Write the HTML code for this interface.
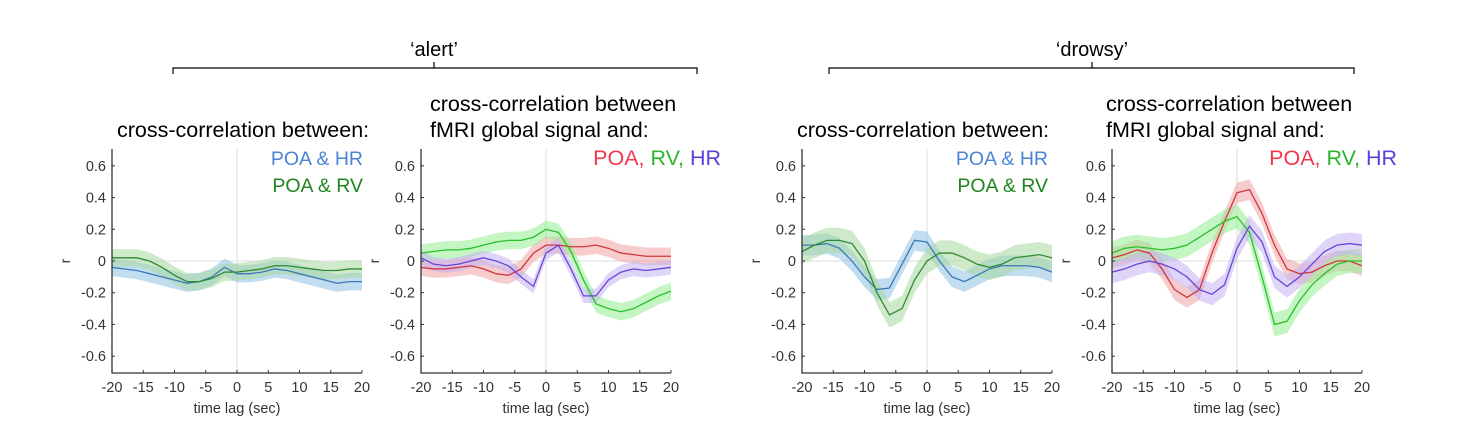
<!DOCTYPE html>
<html><head><meta charset="utf-8"><style>
body{margin:0;background:#fff;width:1474px;height:439px;overflow:hidden;font-family:"Liberation Sans",sans-serif}
svg{position:absolute;left:0;top:0}
</style></head><body>
<svg id="c" width="1474" height="439" font-family="Liberation Sans, sans-serif">
<g>
<text x="434" y="56" font-size="20" text-anchor="middle" fill="#000">‘alert’</text>
<path d="M173,74 V68 H697 V74 M434,68 V62" stroke="#000" fill="none" stroke-width="1.2"/>
</g>
<g>
<text x="1092" y="56" font-size="20" text-anchor="middle" fill="#000">‘drowsy’</text>
<path d="M829,74 V68 H1354 V74 M1092,68 V62" stroke="#000" fill="none" stroke-width="1.2"/>
</g>
<text x="117" y="137" font-size="21.5">cross-correlation between:</text>
<text x="430" y="111" font-size="21.5">cross-correlation between</text>
<text x="430" y="137" font-size="21.5">fMRI global signal and:</text>
<text x="797" y="137" font-size="21.5">cross-correlation between:</text>
<text x="1106" y="111" font-size="21.5">cross-correlation between</text>
<text x="1106" y="137" font-size="21.5">fMRI global signal and:</text>
</svg>
<script>
const xs=[-20,-18,-16,-14,-12,-10,-8,-6,-4,-2,0,2,4,6,8,10,12,14,16,18,20];
const yTicks=[0.6,0.4,0.2,0,-0.2,-0.4,-0.6];
const yTickLabels=["0.6","0.4","0.2","0","-0.2","-0.4","-0.6"];
const xTicks=[-20,-15,-10,-5,0,5,10,15,20];
const p1HR=[-0.04,-0.05,-0.06,-0.08,-0.1,-0.12,-0.14,-0.13,-0.1,-0.04,-0.08,-0.08,-0.07,-0.05,-0.06,-0.08,-0.1,-0.12,-0.14,-0.13,-0.13];
const p1RV=[0.02,0.02,0.02,0.0,-0.04,-0.09,-0.13,-0.13,-0.11,-0.07,-0.07,-0.06,-0.05,-0.03,-0.03,-0.04,-0.05,-0.06,-0.06,-0.05,-0.05];
const p2POA=[-0.04,-0.05,-0.05,-0.04,-0.03,-0.05,-0.08,-0.09,-0.05,0.05,0.1,0.1,0.09,0.09,0.1,0.08,0.05,0.04,0.03,0.03,0.03];
const p2RV=[0.05,0.06,0.07,0.07,0.08,0.1,0.12,0.13,0.13,0.15,0.2,0.18,0.06,-0.12,-0.27,-0.3,-0.32,-0.3,-0.26,-0.22,-0.19];
const p2HR=[0.02,-0.02,-0.03,-0.02,0.0,0.02,0.0,-0.03,-0.1,-0.16,0.05,0.1,-0.05,-0.22,-0.22,-0.12,-0.07,-0.05,-0.06,-0.05,-0.04];
const p3HR=[0.1,0.1,0.11,0.08,0.0,-0.1,-0.18,-0.17,-0.02,0.13,0.12,0.0,-0.1,-0.13,-0.09,-0.05,-0.03,-0.03,-0.03,-0.04,-0.07];
const p3RV=[0.06,0.1,0.13,0.13,0.11,0.0,-0.2,-0.34,-0.3,-0.12,0.0,0.05,0.05,0.02,-0.02,-0.04,-0.02,0.02,0.03,0.04,0.02];
const p4POA=[0.02,0.04,0.07,0.05,-0.05,-0.18,-0.23,-0.18,0.05,0.25,0.43,0.45,0.3,0.1,-0.05,-0.08,-0.07,-0.03,0.0,0.0,-0.03];
const p4RV=[0.05,0.08,0.09,0.08,0.07,0.08,0.1,0.15,0.2,0.25,0.28,0.18,-0.1,-0.4,-0.38,-0.25,-0.15,-0.08,-0.02,0.0,0.0];
const p4HR=[-0.07,-0.05,-0.02,0.0,-0.02,-0.05,-0.1,-0.18,-0.21,-0.15,0.08,0.22,0.12,-0.1,-0.16,-0.1,-0.02,0.06,0.1,0.11,0.1];
const NS='http://www.w3.org/2000/svg';
const svg=document.getElementById('c');
function el(t,a,p){const e=document.createElementNS(NS,t);for(const k in a)e.setAttribute(k,a[k]);(p||svg).appendChild(e);return e;}
const Y0=261,K=158.6,TOP=149,BOT=373;
function yS(v){return Y0-v*K;}
const panels=[
 {x0:112,name:'panel1',series:[[p1HR,0.055,'#3a78b8','#8fc1e3','hr'],[p1RV,0.055,'#2f8a2f','#a8d8a0','rv']],leg:[['POA & HR','#4a84d4'],['POA & RV','#1f861f']],lx:363,ly:165},
 {x0:421,name:'panel2',series:[[p2POA,0.055,'#d2363e','#f0a3a3','poa'],[p2RV,0.055,'#2cc02c','#93ee93','rv'],[p2HR,0.045,'#6a45d6','#c2b2f2','hr']],leg3:true,lx:721,ly:165},
 {x0:802,name:'panel3',series:[[p3HR,0.065,'#3a78b8','#8fc1e3','hr'],[p3RV,0.08,'#2f8a2f','#a8d8a0','rv']],leg:[['POA & HR','#4a84d4'],['POA & RV','#1f861f']],lx:1048,ly:165},
 {x0:1112,name:'panel4',series:[[p4POA,0.065,'#d2363e','#f0a3a3','poa'],[p4RV,0.075,'#2cc02c','#93ee93','rv'],[p4HR,0.07,'#6a45d6','#c2b2f2','hr']],leg3:true,lx:1397,ly:165}
];
panels.forEach(P=>{
 const g=el('g',{});
 
 
 const xS=v=>P.x0+(v+20)/40*250;
 const z=el('line',{x1:P.x0,x2:P.x0+250,y1:yS(0),y2:yS(0),stroke:'#ddd','stroke-width':1},g);
 
 
 const v=el('line',{x1:xS(0),x2:xS(0),y1:TOP,y2:BOT,stroke:'#ddd','stroke-width':1},g);
 
 
 P.series.forEach(s=>{
  const [d,w,lc,fc,nm]=s;
  let up=d.map((v,i)=>xS(xs[i])+','+yS(v+w)).join(' ');
  let dn=d.map((v,i)=>xS(xs[i])+','+yS(v-w)).reverse().join(' ');
  const band=el('polygon',{points:up+' '+dn,fill:fc,'fill-opacity':0.55,stroke:'none'},g);
  
  
 });
 P.series.forEach(s=>{
  const [d,w,lc,fc,nm]=s;
  const ln=el('polyline',{points:d.map((v,i)=>xS(xs[i])+','+yS(v)).join(' '),fill:'none',stroke:lc,'stroke-width':1.3},g);
  
  
 });
 const ax=el('path',{d:`M${P.x0},${TOP} V${BOT} H${P.x0+250}`,stroke:'#333',fill:'none','stroke-width':1.3},g);
 
 
 yTicks.forEach((t,i)=>{
  el('line',{x1:P.x0,x2:P.x0+3,y1:yS(t),y2:yS(t),stroke:'#333'},g);
  const tx=el('text',{x:P.x0-6,y:yS(t)+5,'font-size':14.5,'text-anchor':'end',fill:'#333'},g);
  tx.textContent=yTickLabels[i];
  
  
 });
 xTicks.forEach(t=>{
  el('line',{x1:xS(t),x2:xS(t),y1:BOT,y2:BOT-3,stroke:'#333'},g);
  const tx=el('text',{x:xS(t),y:BOT+19,'font-size':14.5,'text-anchor':'middle',fill:'#333'},g);
  tx.textContent=String(t);
  
  
 });
 const xl=el('text',{x:P.x0+125,y:BOT+40,'font-size':14.5,'text-anchor':'middle',fill:'#333'},g);
 xl.textContent='time lag (sec)';
 
 
 const yl=el('text',{x:0,y:0,'font-size':14,'text-anchor':'middle',fill:'#333',transform:`translate(${P.x0-42},${Y0}) rotate(-90)`},g);
 yl.textContent='r';
 
 
 if(P.leg){
  P.leg.forEach((L,i)=>{
   const t=el('text',{x:P.lx,y:P.ly+i*27,'font-size':19.5,'text-anchor':'end',fill:L[1]},g);
   t.textContent=L[0];
   
   
  });
 } else {
  const t=el('text',{x:P.lx,y:P.ly,'font-size':21.5,'text-anchor':'end'},g);
  
  
  [['POA, ','#f0384e'],['RV, ','#2bb52b'],['HR','#5a3fd8']].forEach(L=>{const s=el('tspan',{fill:L[1]},t);s.textContent=L[0];});
 }
});
</script>
</body></html>
